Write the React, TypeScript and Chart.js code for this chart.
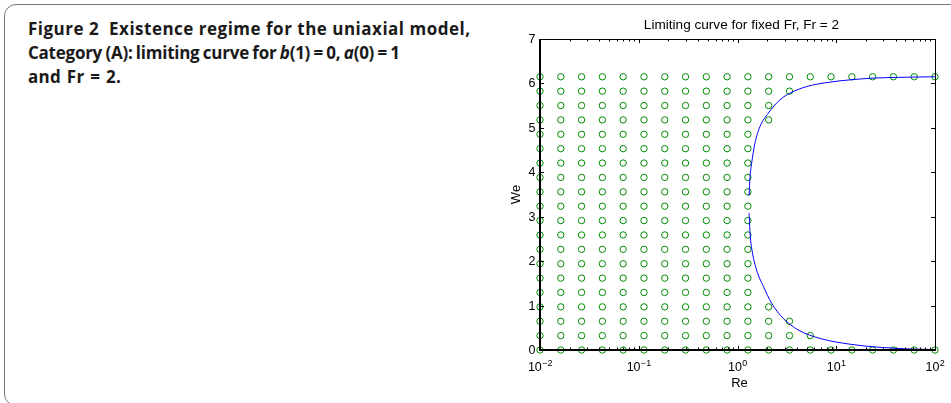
import { useEffect, useRef } from "react";
import { Chart, registerables } from "chart.js";

Chart.register(...registerables);

// Grid of (Re, We) sample values (log-spaced Re, evenly spaced We)
const reGrid = [0.01, 0.01624, 0.02637, 0.04281, 0.06952, 0.1129, 0.1833, 0.2976, 0.4833, 0.7848,
  1.274, 2.069, 3.36, 5.456, 8.859, 14.38, 23.36, 37.93, 61.58, 100];
const weGrid = [0, 0.324, 0.647, 0.971, 1.295, 1.618, 1.942, 2.266, 2.589, 2.913,
  3.237, 3.56, 3.884, 4.208, 4.532, 4.855, 5.179, 5.503, 5.826, 6.15];

// One string per Re column; character k = 1 if a solution exists at weGrid[k]
const existenceMask = [
  "11111111111111111111",
  "11111111111111111111",
  "11111111111111111111",
  "11111111111111111111",
  "11111111111111111111",
  "11111111111111111111",
  "11111111111111111111",
  "11111111111111111111",
  "11111111111111111111",
  "11111111111111111111",
  "11111111111111111111",
  "11110000000000001111",
  "11100000000000000011",
  "11000000000000000001",
  "10000000000000000001",
  "10000000000000000001",
  "10000000000000000001",
  "10000000000000000001",
  "10000000000000000001",
  "10000000000000000001",
];

// Limiting curve (upper and lower branches)
const upperRe = [1.31, 1.34, 1.39, 1.5, 1.69, 2.05, 2.69, 3.4, 5.02, 8.65, 13.8, 23.7, 51.8, 100];
const upperWe = [3.47, 3.9, 4.2, 4.65, 5.03, 5.33, 5.63, 5.78, 5.93, 6.03, 6.08, 6.12, 6.14, 6.15];
const lowerRe = [1.31, 1.34, 1.42, 1.56, 1.83, 2.22, 2.91, 4.13, 6.87, 13.8, 27.8, 60, 100];
const lowerWe = [3.08, 2.63, 2.18, 1.8, 1.43, 1.05, 0.71, 0.45, 0.26, 0.13, 0.06, 0.02, 0.01];

const yTicks = [0, 1, 2, 3, 4, 5, 6, 7];
const xMajorTicks = [0.01, 0.1, 1, 10, 100];
const xTickExponents = ["\u22122", "\u22121", "0", "1", "2"];
const xMinorMultipliers = [2, 3, 4, 5, 6, 7, 8, 9];

const titleText = "Limiting curve for fixed Fr, Fr = 2";
const xLabel = "Re";
const yLabel = "We";

const FONT = "'Liberation Sans', Arial, Helvetica, sans-serif";

const axesPlugin = {
  id: "matlabAxes",
  afterDraw(chart: any) {
    const { ctx, chartArea: a, scales } = chart;
    const xs = scales.x;
    const ys = scales.y;
    ctx.save();
    ctx.strokeStyle = "#000";
    ctx.fillStyle = "#000";

    // top and right box lines
    ctx.lineWidth = 1;
    ctx.beginPath();
    ctx.moveTo(a.left, a.top + 0.5);
    ctx.lineTo(a.right, a.top + 0.5);
    ctx.moveTo(a.right + 0.5, a.top);
    ctx.lineTo(a.right + 0.5, a.bottom);
    ctx.stroke();

    // y ticks
    ctx.beginPath();
    yTicks.forEach((v) => {
      const y = Math.round(ys.getPixelForValue(v)) + 0.5;
      ctx.moveTo(a.left, y);
      ctx.lineTo(a.left + 4, y);
      ctx.moveTo(a.right, y);
      ctx.lineTo(a.right - 4, y);
    });
    // x major + minor ticks
    xMajorTicks.forEach((v, i) => {
      const x = Math.round(xs.getPixelForValue(v)) + 0.5;
      ctx.moveTo(x, a.bottom);
      ctx.lineTo(x, a.bottom - 4);
      ctx.moveTo(x, a.top);
      ctx.lineTo(x, a.top + 4);
      if (i < xMajorTicks.length - 1) {
        xMinorMultipliers.forEach((m) => {
          const xm = Math.round(xs.getPixelForValue(v * m)) + 0.5;
          ctx.moveTo(xm, a.bottom);
          ctx.lineTo(xm, a.bottom - 2.5);
          ctx.moveTo(xm, a.top);
          ctx.lineTo(xm, a.top + 2.5);
        });
      }
    });
    ctx.stroke();

    // left and bottom axis lines (heavier)
    ctx.lineWidth = 2;
    ctx.beginPath();
    ctx.moveTo(a.left, a.top);
    ctx.lineTo(a.left, a.bottom);
    ctx.lineTo(a.right + 1, a.bottom);
    ctx.stroke();

    // y tick labels
    ctx.font = `12.5px ${FONT}`;
    ctx.textAlign = "right";
    ctx.textBaseline = "middle";
    yTicks.forEach((v) => {
      ctx.fillText(String(v), a.left - 4.5, ys.getPixelForValue(v) + 0.5);
    });

    // x tick labels: 10 with superscript exponent
    xMajorTicks.forEach((v, i) => {
      const x = xs.getPixelForValue(v);
      ctx.font = `12.5px ${FONT}`;
      const baseW = ctx.measureText("10").width;
      ctx.font = `9px ${FONT}`;
      const expW = ctx.measureText(xTickExponents[i]).width;
      const start = x - (baseW + expW) / 2;
      ctx.textAlign = "left";
      ctx.textBaseline = "alphabetic";
      ctx.font = `12.5px ${FONT}`;
      ctx.fillText("10", start, a.bottom + 21);
      ctx.font = `9px ${FONT}`;
      ctx.fillText(xTickExponents[i], start + baseW + 0.3, a.bottom + 15.5);
    });

    // axis labels and title
    ctx.textAlign = "center";
    ctx.textBaseline = "middle";
    ctx.font = `13px ${FONT}`;
    ctx.fillText(xLabel, (a.left + a.right) / 2 + 2, a.bottom + 33);
    ctx.save();
    ctx.translate(a.left - 24, (a.top + a.bottom) / 2);
    ctx.rotate(-Math.PI / 2);
    ctx.fillText(yLabel, 0, 0);
    ctx.restore();
    ctx.font = `13.6px ${FONT}`;
    ctx.fillText(titleText, (a.left + a.right) / 2 + 4, a.top - 14);
    ctx.restore();
  },
};

function ChartCanvas() {
  const ref = useRef<HTMLCanvasElement | null>(null);
  useEffect(() => {
    if (!ref.current) return;
    const gridPoints: { x: number; y: number }[] = [];
    existenceMask.forEach((col, i) => {
      for (let k = 0; k < col.length; k++) {
        if (col[k] === "1") gridPoints.push({ x: reGrid[i], y: weGrid[k] });
      }
    });
    const upper = upperRe.map((x, i) => ({ x, y: upperWe[i] }));
    const lower = lowerRe.map((x, i) => ({ x, y: lowerWe[i] }));
    const chart = new Chart(ref.current, {
      type: "scatter",
      data: {
        datasets: [
          {
            label: "upper",
            data: upper,
            showLine: true,
            borderColor: "#0000ff",
            borderWidth: 1,
            pointRadius: 0,
            cubicInterpolationMode: "monotone",
            clip: false,
          } as any,
          {
            label: "lower",
            data: lower,
            showLine: true,
            borderColor: "#0000ff",
            borderWidth: 1,
            pointRadius: 0,
            cubicInterpolationMode: "monotone",
            clip: false,
          } as any,
          {
            label: "exists",
            data: gridPoints,
            showLine: false,
            pointStyle: "circle",
            pointRadius: 3.2,
            borderWidth: 1,
            borderColor: "#008a00",
            backgroundColor: "rgba(0,0,0,0)",
            clip: false,
          } as any,
        ],
      },
      options: {
        responsive: false,
        animation: false,
        devicePixelRatio: 1,
        layout: { padding: { left: 540, right: 16, top: 39, bottom: 53 } },
        plugins: { legend: { display: false }, tooltip: { enabled: false }, title: { display: false } },
        scales: {
          x: { type: "logarithmic", min: 0.01, max: 100, display: false },
          y: { type: "linear", min: 0, max: 7, display: false },
        },
      },
      plugins: [axesPlugin],
    });
    return () => chart.destroy();
  }, []);
  return <canvas ref={ref} width={951} height={403} style={{ position: "absolute", left: 0, top: 0 }} />;
}

function Caption() {
  const base: any = { display: "inline-block", whiteSpace: "nowrap" };
  return (
    <div
      style={{
        position: "absolute",
        left: 28,
        top: 17,
        fontFamily: "'Open Sans', 'Noto Sans', sans-serif",
        fontWeight: 700,
        fontSize: 17,
        lineHeight: "24px",
        color: "#1a1a1a",
      }}
    >
      <span style={{ ...base, letterSpacing: "0.5px" }}>Figure 2&nbsp; Existence regime for the uniaxial model,</span>
      <br />
      <span style={{ ...base, letterSpacing: "-0.25px", wordSpacing: "-0.8px" }}>
        Category (A): limiting curve for <i>b</i>(1) = 0, <i>a</i>(0) = 1
      </span>
      <br />
      <span style={{ ...base, letterSpacing: "0.3px", wordSpacing: "1px" }}>and Fr = 2.</span>
    </div>
  );
}

export default function App() {
  return (
    <div style={{ position: "absolute", left: 0, top: 0, width: 951, height: 403, overflow: "hidden", background: "#fff" }}>
      <div
        style={{
          position: "absolute",
          left: 4,
          top: 4,
          width: 1100,
          height: 402,
          border: "1.6px solid #7a7a7a",
          borderRadius: 12,
          boxSizing: "border-box",
        }}
      />
      <Caption />
      <ChartCanvas />
    </div>
  );
}
